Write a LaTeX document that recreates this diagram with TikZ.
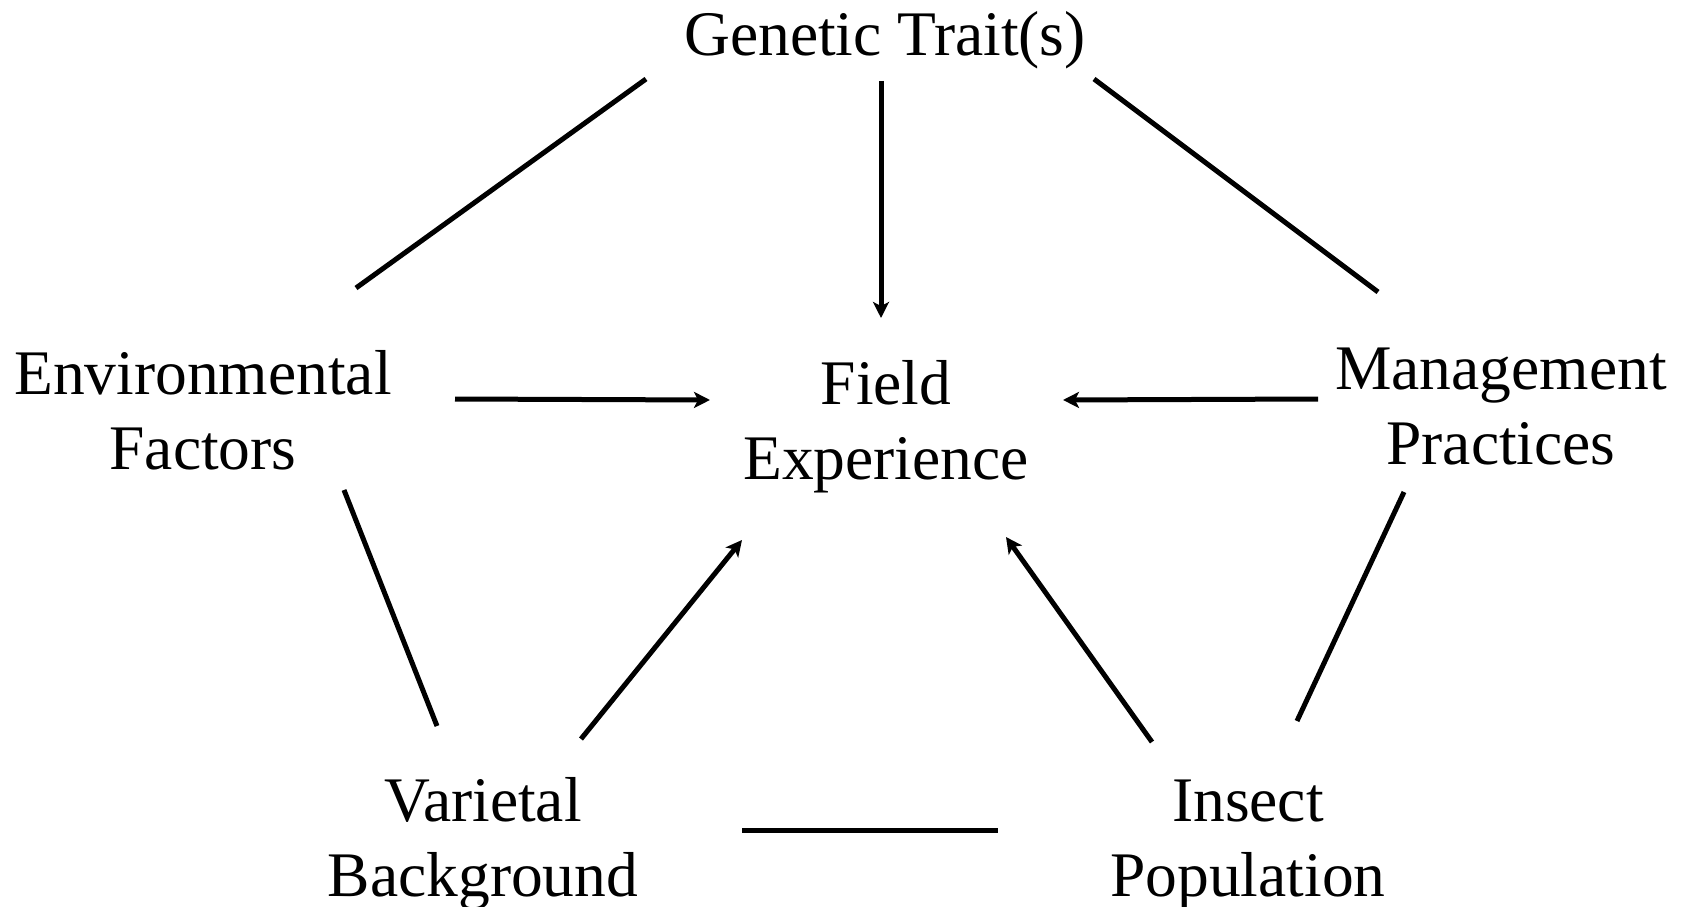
\documentclass[tikz,border=0pt]{standalone}
\usepackage{fontspec}
\setmainfont{Liberation Serif}
\usetikzlibrary{arrows.meta,calc}
\begin{document}
\begin{tikzpicture}[x=1pt,y=-1pt,
  lbl/.style={anchor=base,inner sep=0pt,font=\fontsize{63.5}{75}\selectfont},
  conn/.style={line width=5pt},
  arr/.style={conn,-{Stealth[length=16pt,width=16pt,inset=4pt]}}]
\useasboundingbox (0,0) rectangle (1687,907);
% labels
\node[lbl] (gen) at (885,56) {Genetic Trait(s)};
\node[lbl] (env) at (203,394) {\begin{tabular}[t]{@{}c@{}}Environmental\\Factors\end{tabular}};
\node[lbl] (field) at (886,404) {\begin{tabular}[t]{@{}c@{}}Field\\Experience\end{tabular}};
\node[lbl] (mgmt) at (1501,389) {\begin{tabular}[t]{@{}c@{}}Management\\Practices\end{tabular}};
\node[lbl] (var) at (483,821) {\begin{tabular}[t]{@{}c@{}}Varietal\\Background\end{tabular}};
\node[lbl] (ins) at (1248,821) {\begin{tabular}[t]{@{}c@{}}Insect\\Population\end{tabular}};
% connector end points, placed relative to their nodes
\coordinate (gen-l)  at ($(gen.base)+(-239,23)$);
\coordinate (gen-c)  at ($(gen.base)+(-4,25)$);
\coordinate (gen-r)  at ($(gen.base)+(209,23)$);
\coordinate (env-t)  at ($(env.base)+(153,-106)$);
\coordinate (env-r)  at ($(env.base)+(252,5)$);
\coordinate (env-b)  at ($(env.base)+(141,96)$);
\coordinate (mgmt-t) at ($(mgmt.base)+(-123,-97)$);
\coordinate (mgmt-l) at ($(mgmt.base)+(-183,10)$);
\coordinate (mgmt-b) at ($(mgmt.base)+(-97,103)$);
\coordinate (field-t) at ($(field.base)+(-5,-86)$);
\coordinate (field-l) at ($(field.base)+(-176,-4)$);
\coordinate (field-r) at ($(field.base)+(177,-4)$);
\coordinate (field-bl) at ($(field.base)+(-144,136)$);
\coordinate (field-br) at ($(field.base)+(120,133)$);
\coordinate (var-t)  at ($(var.base)+(-46,-95)$);
\coordinate (var-tr) at ($(var.base)+(98,-82)$);
\coordinate (var-r)  at ($(var.base)+(259,9)$);
\coordinate (ins-tl) at ($(ins.base)+(-96,-79)$);
\coordinate (ins-tr) at ($(ins.base)+(49,-100)$);
\coordinate (ins-l)  at ($(ins.base)+(-250,9)$);
% connectors
\draw[conn] (gen-l) -- (env-t);
\draw[arr]  (gen-c) -- (field-t);
\draw[conn] (gen-r) -- (mgmt-t);
\draw[arr]  (env-r) -- (field-l);
\draw[arr]  (mgmt-l) -- (field-r);
\draw[conn] (env-b) -- (var-t);
\draw[arr]  (var-tr) -- (field-bl);
\draw[arr]  (ins-tl) -- (field-br);
\draw[conn] (mgmt-b) -- (ins-tr);
\draw[conn] (var-r) -- (ins-l);
\end{tikzpicture}
\end{document}
